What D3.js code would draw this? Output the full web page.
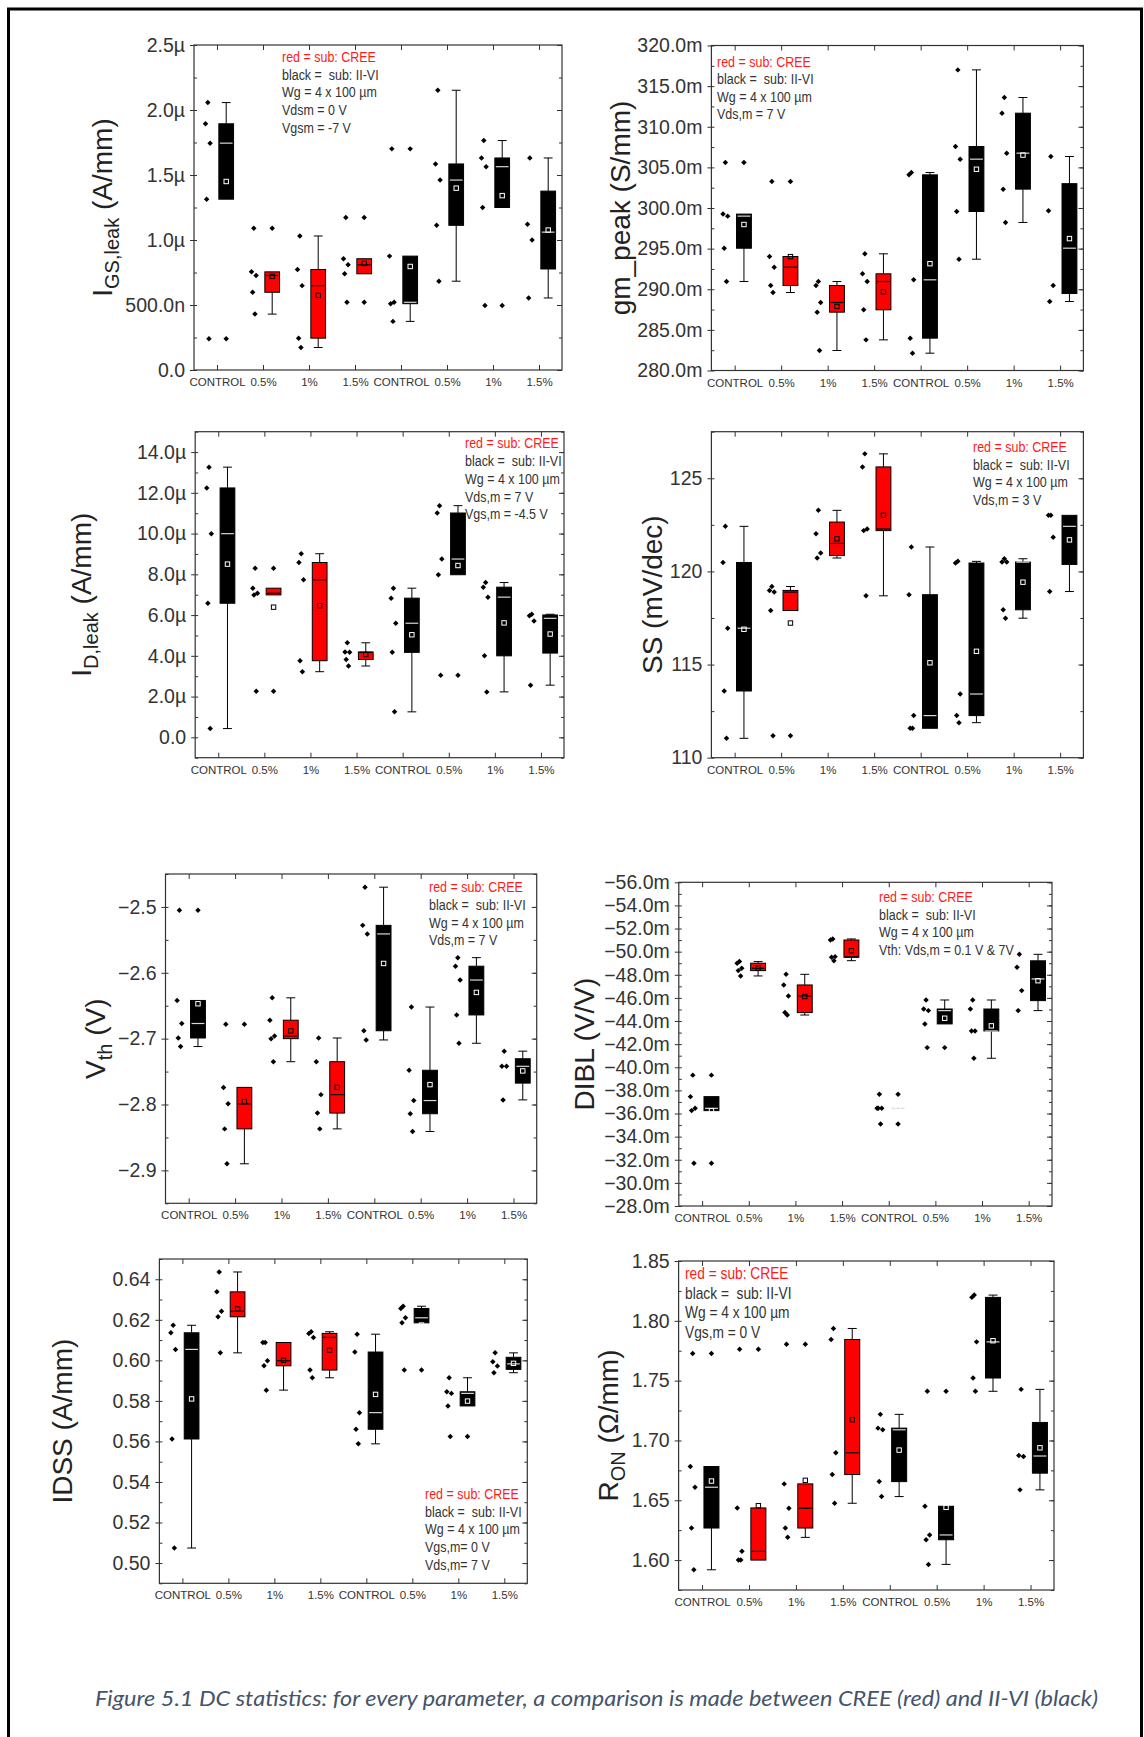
<!DOCTYPE html>
<html>
<head>
<meta charset="utf-8">
<script src="https://cdn.jsdelivr.net/npm/d3@7"></script>
<style>
  html, body { margin: 0; padding: 0; background: #fff; }
  svg { display: block; }
  text { white-space: pre; }
</style>
</head>
<body>
<svg id="fig" width="1144" height="1737"></svg>
<script>
// ---- categories and the substrate of each group ----
const categories = ["CONTROL", "0.5%", "1%", "1.5%", "CONTROL", "0.5%", "1%", "1.5%"];
const substrate  = ["II-VI", "CREE", "CREE", "CREE", "II-VI", "II-VI", "II-VI", "II-VI"];

// ---- measured device values per group ----
// gate leakage, µA/mm
const igsLeak = [
  [2.057, 1.894, 1.745, 1.314, 0.24],
  [1.09, 0.755, 0.727, 0.598, 0.43],
  [1.031, 0.773, 0.649, 0.245, 0.173],
  [1.173, 0.856, 0.809, 0.74, 0.521],
  [1.701, 0.876, 0.521, 0.51, 0.374],
  [2.152, 1.585, 1.461, 1.113, 0.683],
  [1.765, 1.631, 1.564, 1.25, 0.497],
  [1.631, 1.121, 1.0, 0.554]
];
// peak transconductance, mS/mm
const gmPeak = [
  [305.6, 299.25, 299.0, 295.05, 290.95],
  [303.26, 294.03, 292.72, 290.46, 289.6],
  [290.95, 290.46, 288.37, 287.18, 282.46],
  [294.36, 291.9, 290.95, 287.47, 283.77],
  [304.37, 304.08, 291.16, 283.98, 282.13],
  [317.0, 307.57, 306.01, 299.57, 293.7],
  [313.6, 311.67, 306.75, 302.32, 298.22],
  [306.34, 299.65, 290.46, 288.49]
];
// drain leakage, µA/mm
const idLeak = [
  [13.26, 12.24, 9.995, 6.58, 0.43],
  [8.30, 7.32, 7.07, 6.99, 2.26],
  [9.01, 8.58, 7.73, 3.76, 3.22],
  [4.64, 4.19, 4.17, 3.82, 3.50],
  [7.32, 6.83, 5.6, 4.17, 1.25],
  [11.37, 11.01, 8.75, 7.98, 3.05],
  [7.6, 7.37, 6.88, 4.0, 2.23],
  [6.04, 5.97, 5.71, 2.56]
];
// subthreshold swing, mV/dec
const subSwing = [
  [122.42, 120.48, 116.95, 113.58, 111.04],
  [119.19, 118.98, 118.89, 117.9, 111.18],
  [123.28, 122.02, 120.99, 120.72],
  [126.31, 125.61, 122.28, 122.19, 118.69],
  [121.31, 118.75, 112.26, 111.58, 111.58],
  [120.54, 120.45, 113.42, 112.26, 111.88],
  [120.68, 120.5, 120.5, 117.94, 117.49],
  [123.01, 123.01, 121.83, 118.92]
];
// threshold voltage, V
const vth = [
  [-2.505, -2.642, -2.677, -2.699, -2.712],
  [-2.678, -2.774, -2.799, -2.837, -2.89],
  [-2.638, -2.672, -2.696, -2.7, -2.735],
  [-2.699, -2.735, -2.785, -2.813, -2.837],
  [-2.47, -2.528, -2.541, -2.688, -2.702],
  [-2.652, -2.748, -2.794, -2.814, -2.841],
  [-2.577, -2.59, -2.611, -2.664, -2.707],
  [-2.719, -2.742, -2.742, -2.793]
];
// drain-induced barrier lowering, mV/V
const dibl = [
  [-39.32, -37.46, -36.45, -36.25, -31.69],
  [-49.14, -49.0, -48.56, -48.36, -47.9],
  [-48.04, -47.12, -46.17, -44.73, -44.52],
  [-51.1, -51.01, -49.57, -49.51, -49.22],
  [-37.66, -36.45, -36.45, -36.45, -35.09],
  [-45.82, -45.04, -44.9, -43.75, -41.7],
  [-45.82, -45.04, -43.14, -43.14, -40.78],
  [-49.77, -48.65, -46.63, -44.9]
];
// saturation drain current, A/mm
const idss = [
  [0.6173, 0.6136, 0.6054, 0.5612, 0.5074],
  [0.6436, 0.6338, 0.6242, 0.6215, 0.6037],
  [0.6088, 0.6088, 0.5998, 0.5973, 0.5853],
  [0.6141, 0.6133, 0.6113, 0.5952, 0.5914],
  [0.6129, 0.6041, 0.5742, 0.566, 0.5588],
  [0.6267, 0.6256, 0.621, 0.6185, 0.5952],
  [0.5914, 0.5845, 0.5837, 0.5775, 0.5624],
  [0.6037, 0.5993, 0.5972, 0.5939]
];
// on-resistance, Ω·mm
const ron = [
  [1.7726, 1.6782, 1.6609, 1.6268, 1.5919],
  [1.7763, 1.6436, 1.6073, 1.6, 1.6],
  [1.7805, 1.6637, 1.6433, 1.6268, 1.619],
  [1.7936, 1.7844, 1.6897, 1.6715, 1.6475],
  [1.7218, 1.7103, 1.7089, 1.6656, 1.6531],
  [1.7411, 1.645, 1.621, 1.617, 1.5964],
  [1.8215, 1.8196, 1.7824, 1.7522, 1.7411],
  [1.7427, 1.6874, 1.6866, 1.6587]
];

// ---- axis ticks and labels ----
const igsTicks = [0, 0.5, 1, 1.5, 2, 2.5];
const igsTickLabels = ["0.0", "500.0n", "1.0µ", "1.5µ", "2.0µ", "2.5µ"];
const gmTicks = [280, 285, 290, 295, 300, 305, 310, 315, 320];
const gmTickLabels = ["280.0m", "285.0m", "290.0m", "295.0m", "300.0m", "305.0m", "310.0m", "315.0m", "320.0m"];
const idTicks = [0, 2, 4, 6, 8, 10, 12, 14];
const idTickLabels = ["0.0", "2.0µ", "4.0µ", "6.0µ", "8.0µ", "10.0µ", "12.0µ", "14.0µ"];
const ssTicks = [110, 115, 120, 125];
const ssTickLabels = ["110", "115", "120", "125"];
const vthTicks = [-2.9, -2.8, -2.7, -2.6, -2.5];
const vthTickLabels = ["\u22122.9", "\u22122.8", "\u22122.7", "\u22122.6", "\u22122.5"];
const diblTicks = [-56, -54, -52, -50, -48, -46, -44, -42, -40, -38, -36, -34, -32, -30, -28];
const diblTickLabels = ["\u221256.0m", "\u221254.0m", "\u221252.0m", "\u221250.0m", "\u221248.0m",
  "\u221246.0m", "\u221244.0m", "\u221242.0m", "\u221240.0m", "\u221238.0m", "\u221236.0m",
  "\u221234.0m", "\u221232.0m", "\u221230.0m", "\u221228.0m"];
const idssTicks = [0.50, 0.52, 0.54, 0.56, 0.58, 0.60, 0.62, 0.64];
const idssTickLabels = ["0.50", "0.52", "0.54", "0.56", "0.58", "0.60", "0.62", "0.64"];
const ronTicks = [1.60, 1.65, 1.70, 1.75, 1.80, 1.85];
const ronTickLabels = ["1.60", "1.65", "1.70", "1.75", "1.80", "1.85"];

// ---- annotation text ----
const noteHead = ["red = sub: CREE", "black =  sub: II-VI", "Wg = 4 x 100 \u00b5m"];
const igsNotes  = [...noteHead, "Vdsm = 0 V", "Vgsm = -7 V"];
const gmNotes   = [...noteHead, "Vds,m = 7 V"];
const idNotes   = [...noteHead, "Vds,m = 7 V", "Vgs,m = -4.5 V"];
const ssNotes   = [...noteHead, "Vds,m = 3 V"];
const vthNotes  = [...noteHead, "Vds,m = 7 V"];
const diblNotes = [...noteHead, "Vth: Vds,m = 0.1 V & 7V"];
const idssNotes = [...noteHead, "Vgs,m= 0 V", "Vds,m= 7 V"];
const ronNotes  = [...noteHead, "Vgs,m = 0 V"];

const caption = "Figure 5.1 DC statistics: for every parameter, a comparison is made between CREE (red) and II-VI (black)";

// ---- panel layout ----
const panels = [
  { values: igsLeak, domain: [0, 2.5], ticks: igsTicks, labels: igsTickLabels, minor: 0.25,
    title: [["I", 0], ["GS,leak", 1], [" (A/mm)", 0]], notes: igsNotes,
    box: { l: 194, r: 562, t: 45, b: 370 }, titleX: 112, note: { x: 282, y: 57, step: 17.6, size: 14.5 } },
  { values: gmPeak, domain: [280, 320], ticks: gmTicks, labels: gmTickLabels, minor: 2.5,
    title: [["gm_peak (S/mm)", 0]], notes: gmNotes,
    box: { l: 711.4, r: 1083.4, t: 45.5, b: 370.5 }, titleX: 630, note: { x: 717, y: 61.5, step: 17.5, size: 14.5 } },
  { values: idLeak, domain: [-1, 15], ticks: idTicks, labels: idTickLabels, minor: 1,
    title: [["I", 0], ["D,leak", 1], [" (A/mm)", 0]], notes: idNotes,
    box: { l: 195.2, r: 564, t: 431.7, b: 757.7 }, titleX: 91, note: { x: 465, y: 443, step: 17.8, size: 14.5 } },
  { values: subSwing, domain: [110, 127.5], ticks: ssTicks, labels: ssTickLabels, minor: 2.5,
    title: [["SS (mV/dec)", 0]], notes: ssNotes,
    box: { l: 711.4, r: 1083.4, t: 431.7, b: 757.7 }, titleX: 662, note: { x: 973, y: 447, step: 17.5, size: 14.5 } },
  { values: vth, domain: [-2.95, -2.45], ticks: vthTicks, labels: vthTickLabels, minor: 0.05,
    title: [["V", 0], ["th", 1], [" (V)", 0]], notes: vthNotes,
    box: { l: 165.5, r: 536.7, t: 874, b: 1203.3 }, titleX: 105, note: { x: 429, y: 887, step: 17.7, size: 14.5 } },
  { values: dibl, domain: [-28, -56], ticks: diblTicks, labels: diblTickLabels, minor: 1,
    title: [["DIBL (V/V)", 0]], notes: diblNotes,
    box: { l: 678.8, r: 1052, t: 882.3, b: 1206 }, titleX: 594, note: { x: 879, y: 897, step: 17.5, size: 14.5 } },
  { values: idss, domain: [0.49, 0.65], ticks: idssTicks, labels: idssTickLabels, minor: 0.01,
    title: [["IDSS (A/mm)", 0]], notes: idssNotes,
    box: { l: 159.4, r: 527.3, t: 1259, b: 1583.3 }, titleX: 72, note: { x: 425, y: 1494, step: 17.6, size: 14.5 } },
  { values: ron, domain: [1.575, 1.85], ticks: ronTicks, labels: ronTickLabels, minor: 0.025,
    title: [["R", 0], ["ON", 1], [" (\u03a9/mm)", 0]], notes: ronNotes,
    box: { l: 678.6, r: 1054, t: 1261, b: 1590 }, titleX: 618, note: { x: 685, y: 1273, step: 19.8, size: 16 } }
];

const FONT = "'Liberation Sans', Arial, Helvetica, sans-serif";
const FILL = { "CREE": "#ff0000", "II-VI": "#000000" };
const MEDIAN = { "CREE": "#000000", "II-VI": "#d8d8d8" };
const MEANMARK = { "CREE": "#000000", "II-VI": "#ffffff" };
const JITTER = [0, -0.05, 0.05, -0.025, 0.025];

const svg = d3.select("#fig");

// page border
svg.append("rect")
  .attr("x", 8.5).attr("y", 9).attr("width", 1133).attr("height", 1760)
  .attr("fill", "none").attr("stroke", "#000").attr("stroke-width", 3);

// Tukey-hinge box statistics with 1.5·IQR whiskers
function boxStats(vals) {
  const s = vals.slice().sort(d3.ascending);
  const n = s.length, h = Math.ceil(n / 2);
  const q1 = d3.median(s.slice(0, h));
  const q3 = d3.median(s.slice(n - h));
  const iqr = q3 - q1;
  const lo = q1 - 1.5 * iqr, hi = q3 + 1.5 * iqr;
  const inside = s.filter(v => v >= lo && v <= hi);
  return {
    q1, q3, med: d3.median(s), mean: d3.mean(s),
    wLo: d3.min(inside), wHi: d3.max(inside),
    out: s.filter(v => v < lo || v > hi)
  };
}

const diamond = d3.symbol(d3.symbolSquare, 15)();

function styleAxis(g, size) {
  g.select(".domain").remove();
  g.attr("font-family", FONT).attr("font-size", size).attr("color", "#333");
  g.selectAll("line").attr("stroke", "#333").attr("stroke-width", 1);
  g.selectAll("text").attr("fill", "#333");
}

function drawPanel(p) {
  const g = svg.append("g");
  const B = p.box;
  const x = d3.scaleLinear().domain([0.5, 8.5]).range([B.l, B.r]);
  const y = d3.scaleLinear().domain(p.domain).range([B.b, B.t]);
  const slot = x(2) - x(1);
  const [v0, v1] = d3.extent(p.domain);
  const minors = d3.range(Math.round((v1 - v0) / p.minor) + 1).map(k => v0 + k * p.minor);
  const cats = d3.range(1, 9);

  // left axis: inward small ticks, outward major ticks with labels
  g.append("g").attr("transform", `translate(${B.l},0)`)
    .call(d3.axisLeft(y).tickValues(minors).tickSize(-3).tickFormat(""))
    .call(a => styleAxis(a, 10));
  g.append("g").attr("transform", `translate(${B.l},0)`)
    .call(d3.axisLeft(y).tickValues(p.ticks).tickSizeInner(4).tickSizeOuter(0).tickPadding(5)
      .tickFormat((d, i) => p.labels[i]))
    .call(a => styleAxis(a, 19.5));
  // right axis
  g.append("g").attr("transform", `translate(${B.r},0)`)
    .call(d3.axisRight(y).tickValues(minors).tickSize(-3).tickFormat(""))
    .call(a => styleAxis(a, 10));
  g.append("g").attr("transform", `translate(${B.r},0)`)
    .call(d3.axisRight(y).tickValues(p.ticks).tickSize(-5).tickFormat(""))
    .call(a => styleAxis(a, 10));
  // top and bottom category axes
  g.append("g").attr("transform", `translate(0,${B.t})`)
    .call(d3.axisTop(x).tickValues(cats).tickSize(-5).tickFormat(""))
    .call(a => styleAxis(a, 10));
  g.append("g").attr("transform", `translate(0,${B.b})`)
    .call(d3.axisBottom(x).tickValues(cats).tickSize(-5).tickPadding(8)
      .tickFormat((d, i) => categories[i]))
    .call(a => styleAxis(a, 11.5));

  // plot frame
  g.append("rect").attr("x", B.l).attr("y", B.t).attr("width", B.r - B.l).attr("height", B.b - B.t)
    .attr("fill", "none").attr("stroke", "#333").attr("stroke-width", 1.2);

  // y-axis title
  const tcy = (B.t + B.b) / 2;
  const title = g.append("text")
    .attr("transform", `translate(${p.titleX},${tcy}) rotate(-90)`)
    .attr("text-anchor", "middle").attr("font-family", FONT).attr("font-size", 28).attr("fill", "#222");
  p.title.forEach(([txt, sub], k) => {
    const prevSub = k > 0 && p.title[k - 1][1];
    title.append("tspan")
      .attr("font-size", sub ? 20 : 28)
      .attr("dy", sub ? 7 : (prevSub ? -7 : 0))
      .text(txt);
  });

  // annotation block
  const note = g.append("g")
    .attr("transform", `translate(${p.note.x},${p.note.y}) scale(0.86,1)`)
    .attr("font-family", FONT).attr("font-size", p.note.size);
  p.notes.forEach((line, k) => {
    note.append("text").attr("x", 0).attr("y", k * p.note.step).attr("dy", "0.36em")
      .attr("fill", k === 0 ? "#ff1a1a" : "#333").text(line);
  });

  // boxes
  const bw = 0.32 * slot, cw = 0.6 * bw;
  p.values.forEach((vals, i) => {
    const c = i + 1, sub = substrate[i];
    const st = boxStats(vals);
    const xc = x(c + 0.2);
    const gb = g.append("g");

    // whiskers
    [[st.q3, st.wHi], [st.q1, st.wLo]].forEach(([edge, end]) => {
      if (end === undefined || end === edge) return;
      gb.append("line").attr("x1", xc).attr("x2", xc).attr("y1", y(edge)).attr("y2", y(end))
        .attr("stroke", "#000").attr("stroke-width", 1);
      gb.append("line").attr("x1", xc - cw / 2).attr("x2", xc + cw / 2).attr("y1", y(end)).attr("y2", y(end))
        .attr("stroke", "#000").attr("stroke-width", 1);
    });

    // box body
    const yTop = Math.min(y(st.q1), y(st.q3));
    const hBox = Math.abs(y(st.q1) - y(st.q3));
    gb.append("rect").attr("x", xc - bw / 2).attr("y", yTop).attr("width", bw).attr("height", hBox)
      .attr("fill", FILL[sub]).attr("stroke", "#000").attr("stroke-width", 1);

    // median
    gb.append("line").attr("x1", xc - bw / 2 + 1).attr("x2", xc + bw / 2 - 1)
      .attr("y1", y(st.med)).attr("y2", y(st.med))
      .attr("stroke", MEDIAN[sub]).attr("stroke-width", 1.2);

    // mean
    gb.append("rect").attr("x", xc - 2.2).attr("y", y(st.mean) - 2.2).attr("width", 4.4).attr("height", 4.4)
      .attr("fill", "none").attr("stroke", MEANMARK[sub]).attr("stroke-width", 1);

    // outliers at the box position
    st.out.forEach(v => {
      gb.append("path").attr("d", diamond)
        .attr("transform", `translate(${xc},${y(v)}) rotate(45)`).attr("fill", "#000");
    });

    // raw data points beside the box
    vals.forEach((v, k) => {
      const xd = x(c - 0.2 + JITTER[k % JITTER.length]);
      gb.append("path").attr("d", diamond)
        .attr("transform", `translate(${xd},${y(v)}) rotate(45)`).attr("fill", "#000");
    });
  });
}

panels.forEach(drawPanel);

// figure caption
svg.append("text")
  .attr("x", 596.5).attr("y", 1706)
  .attr("text-anchor", "middle")
  .attr("font-family", "Lato, 'Open Sans', sans-serif")
  .attr("font-style", "italic").attr("font-size", 21)
  .attr("fill", "#44546a")
  .attr("textLength", 1003).attr("lengthAdjust", "spacingAndGlyphs")
  .text(caption);
</script>
</body>
</html>
